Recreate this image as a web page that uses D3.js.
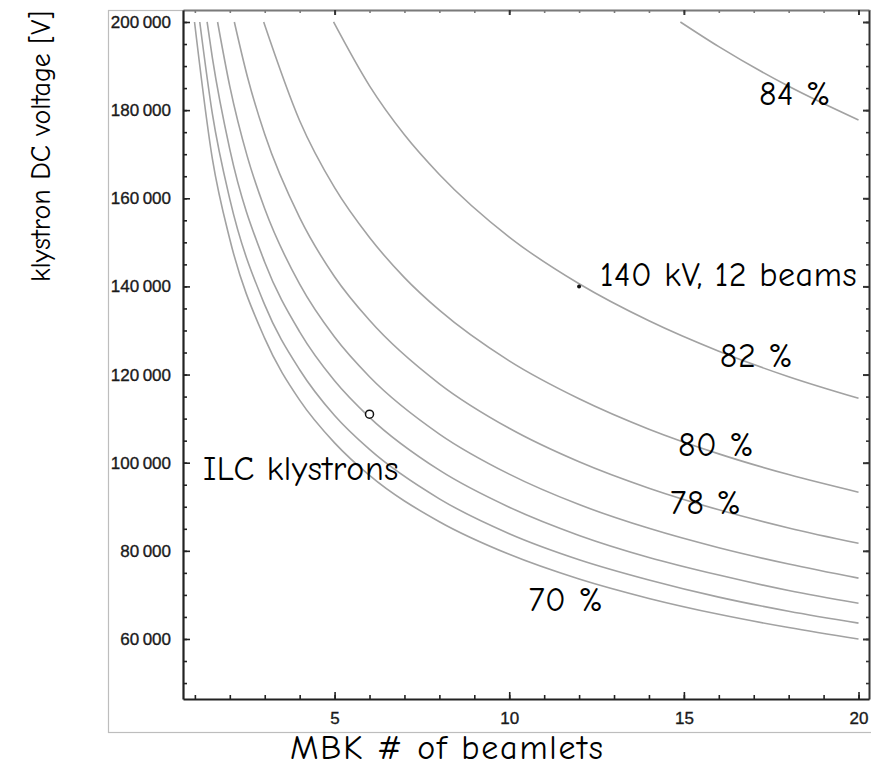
<!DOCTYPE html>
<html>
<head>
<meta charset="utf-8">
<script src="https://cdn.jsdelivr.net/npm/d3@7"></script>
<style>
  body { margin: 0; background: #fff; }
  svg { display: block; }
</style>
</head>
<body>
<svg id="chart" width="871" height="771"></svg>
<script>
// Efficiency contours: [number of beamlets, klystron DC voltage in V]
const eff70 = [[0.99,200000],[1.5,169000],[2,150700],[3,128200],[4,114200],[5,104500],[6,97100],[8,86600],[10,79200],[12,73600],[14,69200],[16,65600],[18,62600],[20,60000]];
const eff72 = [[1.14,200000],[1.5,179200],[2,159800],[3,135800],[4,121100],[5,110700],[6,103000],[8,91800],[10,83900],[12,78000],[14,73400],[16,69500],[18,66300],[20,63600]];
const eff74 = [[1.35,200000],[1.5,191900],[2,171100],[3,145500],[4,129700],[5,118600],[6,110300],[8,98300],[10,89900],[12,83500],[14,78500],[16,74500],[18,71000],[20,68100]];
const eff76 = [[1.65,200000],[2,185400],[2.5,169500],[3,157600],[4,140500],[5,128500],[6,119500],[8,106500],[10,97400],[12,90500],[14,85100],[16,80700],[18,77000],[20,73800]];
const eff78 = [[2.13,200000],[2.5,187700],[3,174500],[4,155600],[5,142200],[6,132300],[8,117900],[10,107800],[12,100200],[14,94200],[16,89300],[18,85200],[20,81700]];
const eff80 = [[2.97,200000],[4,177600],[5,162400],[6,151100],[7,142000],[8,134600],[10,123100],[12,114500],[14,107600],[16,102000],[18,97300],[20,93300]];
const eff82 = [[4.97,200000],[6,185500],[7,174400],[8,165400],[10,151200],[12,140600],[14,132200],[16,125300],[18,119500],[20,114600]];
const eff84 = [[14.9,200000],[16,194400],[18,185400],[20,177750]];

const contours = [eff70, eff72, eff74, eff76, eff78, eff80, eff82, eff84];

// Marked design points
const designPoint = [12, 140000];   // 140 kV, 12 beams
const ilcPoint = [6, 111000];       // ILC klystrons

// Axis ticks
const xMajorTicks = [5, 10, 15, 20];
const xMinorTicks = d3.range(1, 21);
const yMajorTicks = [60000, 80000, 100000, 120000, 140000, 160000, 180000, 200000];
const yMinorTicks = d3.range(50000, 200001, 5000);

// Annotations in data coordinates (text baseline start)
const labelTexts = ["84 %", "140 kV, 12 beams", "82 %", "80 %", "78 %", "70 %", "ILC klystrons"];
const labelN     = [17.15, 12.6, 16.03, 14.83, 14.6, 10.55, 1.23];
const labelV     = [181200, 140000, 121700, 101500, 88400, 66400, 96100];

const svg = d3.select("#chart");
const plotLeft = 183, plotRight = 869, plotTop = 10, plotBottom = 699;

const x = d3.scaleLinear().domain([0.66, 20.3]).range([plotLeft, plotRight]);
const y = d3.scaleLinear().domain([46380, 202720]).range([plotBottom, plotTop]);

// Outer panel border
svg.append("rect")
  .attr("x", 108.5).attr("y", 10.5)
  .attr("width", 800).attr("height", 722)
  .attr("fill", "none").attr("stroke", "#bdbdbd").attr("stroke-width", 1.2);

svg.append("clipPath").attr("id", "plotClip")
  .append("rect").attr("x", plotLeft).attr("y", plotTop)
  .attr("width", plotRight - plotLeft).attr("height", plotBottom - plotTop);

// Contour lines
const line = d3.line()
  .x(d => x(d[0]))
  .y(d => y(d[1]))
  .curve(d3.curveMonotoneX);

svg.append("g").attr("clip-path", "url(#plotClip)")
  .selectAll("path")
  .data(contours)
  .join("path")
  .attr("d", line)
  .attr("fill", "none")
  .attr("stroke", "#a2a2a2")
  .attr("stroke-width", 1.6);

// Tick label format with thin-space thousands separator
const fmt = d3.formatLocale({ decimal: ".", thousands: "\u2009", grouping: [3], currency: ["", ""] }).format(",");

function styleAxis(g, color, width) {
  g.select(".domain").attr("stroke", color).attr("stroke-width", width);
  g.selectAll(".tick line").attr("stroke", color).attr("stroke-width", 1.6);
  g.selectAll(".tick text").attr("fill", "#1a1a1a")
    .attr("stroke", "#1a1a1a").attr("stroke-width", 0.35)
    .style("font-family", "'Liberation Sans', Arial, sans-serif")
    .style("font-size", "17px");
}

// Frame: top and right (ticks only)
svg.append("g").attr("transform", `translate(0,${plotTop})`)
  .call(d3.axisTop(x).tickValues(xMinorTicks).tickSizeInner(-3).tickSizeOuter(0).tickFormat(""))
  .call(g => styleAxis(g, "#7a7a7a", 2));
svg.append("g").attr("transform", `translate(0,${plotTop})`)
  .call(d3.axisTop(x).tickValues(xMajorTicks).tickSizeInner(-5).tickSizeOuter(0).tickFormat(""))
  .call(g => { g.select(".domain").remove(); g.selectAll(".tick line").attr("stroke", "#333").attr("stroke-width", 2); });

svg.append("g").attr("transform", `translate(${plotRight},0)`)
  .call(d3.axisRight(y).tickValues(yMinorTicks).tickSizeInner(-3).tickSizeOuter(0).tickFormat(""))
  .call(g => styleAxis(g, "#333", 2));
svg.append("g").attr("transform", `translate(${plotRight},0)`)
  .call(d3.axisRight(y).tickValues(yMajorTicks).tickSizeInner(-6).tickSizeOuter(0).tickFormat(""))
  .call(g => { g.select(".domain").remove(); g.selectAll(".tick line").attr("stroke", "#333").attr("stroke-width", 2); });

// Bottom axis
svg.append("g").attr("transform", `translate(0,${plotBottom})`)
  .call(d3.axisBottom(x).tickValues(xMinorTicks).tickSizeInner(-4).tickSizeOuter(0).tickFormat(""))
  .call(g => styleAxis(g, "#222", 2.2));
svg.append("g").attr("transform", `translate(0,${plotBottom})`)
  .call(d3.axisBottom(x).tickValues(xMajorTicks).tickSizeInner(-7).tickSizeOuter(0).tickPadding(13).tickFormat(d3.format("d")))
  .call(g => { styleAxis(g, "#222", 2.2); g.select(".domain").remove(); });

// Left axis
svg.append("g").attr("transform", `translate(${plotLeft},0)`)
  .call(d3.axisLeft(y).tickValues(yMinorTicks).tickSizeInner(-4).tickSizeOuter(0).tickFormat(""))
  .call(g => styleAxis(g, "#222", 2.2));
svg.append("g").attr("transform", `translate(${plotLeft},0)`)
  .call(d3.axisLeft(y).tickValues(yMajorTicks).tickSizeInner(-7).tickSizeOuter(0).tickPadding(12).tickFormat(fmt))
  .call(g => { styleAxis(g, "#222", 2.2); g.select(".domain").remove(); });

// Marked points
svg.append("circle")
  .attr("cx", x(designPoint[0])).attr("cy", y(designPoint[1]))
  .attr("r", 2).attr("fill", "#111");
svg.append("circle")
  .attr("cx", x(ilcPoint[0])).attr("cy", y(ilcPoint[1]))
  .attr("r", 4).attr("fill", "#fff").attr("stroke", "#111").attr("stroke-width", 1.5);

const handFont = "'Comic Sans MS', 'Comic Neue', Lato, sans-serif";

// Annotations
svg.append("g").selectAll("text")
  .data(labelTexts)
  .join("text")
  .attr("x", (d, i) => x(labelN[i]))
  .attr("y", (d, i) => y(labelV[i]))
  .attr("fill", "#000")
  .style("font-family", handFont)
  .style("font-size", "34px")
  .style("letter-spacing", "0.6px")
  .text(d => d);

// Axis titles
svg.append("text")
  .attr("x", 290).attr("y", 759)
  .attr("textLength", 313)
  .attr("lengthAdjust", "spacing")
  .style("font-family", handFont)
  .style("font-size", "34px")
  .text("MBK # of beamlets");

svg.append("text")
  .attr("transform", "translate(50,282) rotate(-90)")
  .style("font-family", handFont)
  .style("font-size", "28px")
  .text("klystron DC voltage [V]");
</script>
</body>
</html>
